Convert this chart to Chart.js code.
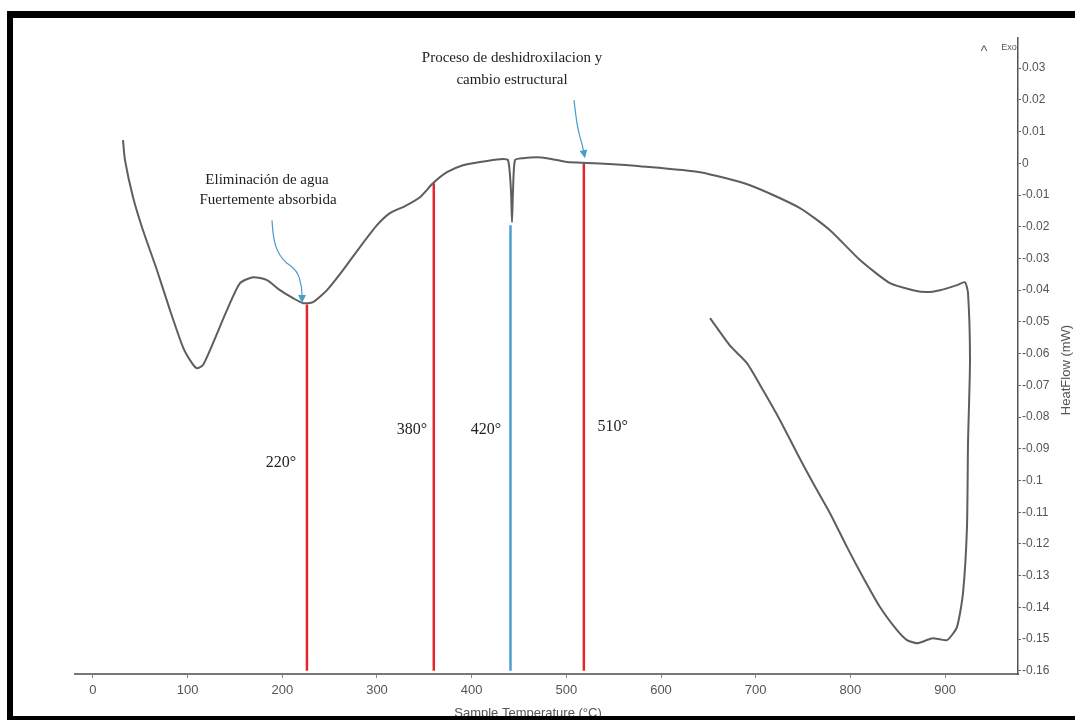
<!DOCTYPE html>
<html>
<head>
<meta charset="utf-8">
<script src="https://cdn.jsdelivr.net/npm/chart.js@4.4.1/dist/chart.umd.min.js"></script>
<style>
  html, body { margin: 0; padding: 0; background: #fff; }
  #wrap { width: 1075px; height: 720px; position: relative; }
</style>
</head>
<body>
<div id="wrap"><canvas id="chart"></canvas></div>
<script>
// DSC trace: sample temperature (°C) and heat flow (mW), in drawing order
const curveTemp = [31.7, 33.8, 42.3, 52.8, 67.6, 81.3, 95.1, 104.6, 109.9, 116.2, 126.8, 141.5, 155.3, 169.0,
  183.8, 197.5, 211.3, 221.8, 232.4, 247.2, 264.1, 282.0, 300.0, 313.7, 329.6, 345.4, 359.1, 373.9, 390.8, 408.8,
  429.9, 438.4, 441.5, 442.6, 443.7, 445.8, 454.2, 469.0, 479.6, 500.7, 521.8, 549.3, 577.8, 641.2, 694.0,
  746.8, 778.5, 810.2, 841.9, 866.2, 881.0, 894.7, 912.6, 921.1, 924.3, 926.4, 924.3, 923.2, 919.0, 912.6,
  902.1, 887.3, 881.0, 870.4, 859.8, 849.3, 831.3, 813.4, 796.5, 778.5, 760.6, 743.7, 725.7, 707.7, 690.8,
  672.9, 651.8];
const curveHeat = [0.0073, 0.0010, -0.0107, -0.0211, -0.0337, -0.0463, -0.0580, -0.0630, -0.0646, -0.0636,
  -0.0567, -0.0463, -0.0378, -0.0359, -0.0368, -0.0400, -0.0425, -0.0441, -0.0438, -0.0400, -0.0337, -0.0264,
  -0.0195, -0.0157, -0.0135, -0.0107, -0.0063, -0.0028, -0.0006, 0.0004, 0.0013, 0.0010, -0.0085, -0.0186, -0.0085,
  0.0010, 0.0016, 0.0019, 0.0016, 0.0004, 0.0001, -0.0003, -0.0009, -0.0028, -0.0069, -0.0141, -0.0211,
  -0.0305, -0.0378, -0.0400, -0.0406, -0.0400, -0.0384, -0.0375, -0.0409, -0.0621, -0.0882, -0.1147, -0.1355,
  -0.1462, -0.1503, -0.1497, -0.1503, -0.1513, -0.1503, -0.1472, -0.1399, -0.1305, -0.1210, -0.1103, -0.1008,
  -0.0914, -0.0810, -0.0715, -0.0630, -0.0575, -0.0488];

// vertical marker lines (position on temperature axis, top end on heat flow axis)
const markerTemp = [226, 360, 441, 518.5];
const markerTop = [-0.0445, -0.0063, -0.0195, -0.0001];
const markerColor = ['#e3262c', '#e3262c', '#4a9fd0', '#e3262c'];
const markerText = ['220°', '380°', '420°', '510°'];
const markerTextTemp = [198.6, 337, 415, 549];
const markerTextHeat = [-0.0945, -0.0841, -0.0841, -0.0832];

// axis ticks
const xTicks = [0, 100, 200, 300, 400, 500, 600, 700, 800, 900];
const yTicks = [0.03, 0.02, 0.01, 0, -0.01, -0.02, -0.03, -0.04, -0.05, -0.06, -0.07, -0.08,
  -0.09, -0.1, -0.11, -0.12, -0.13, -0.14, -0.15, -0.16];

// callouts with arrows
const waterText = ['Eliminación de agua', 'Fuertemente absorbida'];
const waterTextAt = [[183.8, -0.0053], [184.9, -0.0116]];
const waterArrow = [[189.1, -0.0180], [190.1, -0.0245], [199.6, -0.0305], [215.5, -0.0337], [220.8, -0.0390], [220.8, -0.0441]];
const dehydText = ['Proceso de deshidroxilacion y', 'cambio estructural'];
const dehydTextAt = [[442.6, 0.0332], [442.6, 0.0262]];
const dehydArrow = [[508.1, 0.0199], [511.3, 0.0114], [516.5, 0.0064], [519.7, 0.0016]];

const X_MIN = -19, X_MAX = 977.1, Y_MIN = -0.161, Y_MAX = 0.0395;
const tickFont = "'Liberation Sans', Arial, sans-serif";
const serif = "'Liberation Serif', 'DejaVu Serif', serif";

const datasets = [{
  data: curveTemp.map((t, i) => ({ x: t, y: curveHeat[i] })),
  showLine: true,
  borderColor: '#5e5e5e',
  borderWidth: 2,
  pointRadius: 0,
  tension: 0.2
}];
markerTemp.forEach((t, i) => {
  datasets.push({
    data: [{ x: t, y: Y_MIN + 0.001 }, { x: t, y: markerTop[i] }],
    showLine: true,
    borderColor: markerColor[i],
    borderWidth: 2.5,
    pointRadius: 0
  });
});

function drawArrow(ctx, pts, color) {
  ctx.save();
  ctx.strokeStyle = color;
  ctx.fillStyle = color;
  ctx.lineWidth = 1.2;
  ctx.beginPath();
  ctx.moveTo(pts[0][0], pts[0][1]);
  for (let i = 1; i < pts.length - 1; i++) {
    const mx = (pts[i][0] + pts[i + 1][0]) / 2, my = (pts[i][1] + pts[i + 1][1]) / 2;
    ctx.quadraticCurveTo(pts[i][0], pts[i][1], mx, my);
  }
  const tip = pts[pts.length - 1], prev = pts[pts.length - 2];
  ctx.lineTo(tip[0], tip[1] - 6);
  ctx.stroke();
  const a = Math.atan2(tip[1] - prev[1], tip[0] - prev[0]);
  ctx.beginPath();
  ctx.moveTo(tip[0], tip[1]);
  ctx.lineTo(tip[0] - 9 * Math.cos(a - 0.45), tip[1] - 9 * Math.sin(a - 0.45));
  ctx.lineTo(tip[0] - 9 * Math.cos(a + 0.45), tip[1] - 9 * Math.sin(a + 0.45));
  ctx.closePath();
  ctx.fill();
  ctx.restore();
}

const overlay = {
  id: 'overlay',
  afterDatasetsDraw(chart) {
    const { ctx, scales: { x, y }, chartArea } = chart;
    const px = p => [x.getPixelForValue(p[0]), y.getPixelForValue(p[1])];
    ctx.save();
    ctx.fillStyle = '#222';
    ctx.textAlign = 'center';
    ctx.textBaseline = 'middle';
    ctx.font = '15px ' + serif;
    waterText.forEach((s, i) => { const p = px(waterTextAt[i]); ctx.fillText(s, p[0], p[1]); });
    dehydText.forEach((s, i) => { const p = px(dehydTextAt[i]); ctx.fillText(s, p[0], p[1]); });
    ctx.font = '16px ' + serif;
    markerText.forEach((s, i) => {
      ctx.fillText(s, x.getPixelForValue(markerTextTemp[i]), y.getPixelForValue(markerTextHeat[i]));
    });
    drawArrow(ctx, waterArrow.map(px), '#4a9cc9');
    drawArrow(ctx, dehydArrow.map(px), '#4a9cc9');

    // axis titles and the Exo mark
    ctx.fillStyle = '#555';
    ctx.font = '13px ' + tickFont;
    ctx.fillText('Sample Temperature (°C)', 528, 713);
    ctx.save();
    ctx.translate(1066, 370);
    ctx.rotate(-Math.PI / 2);
    ctx.fillText('HeatFlow (mW)', 0, 0);
    ctx.restore();
    ctx.font = '14px ' + tickFont;
    ctx.fillText('^', chartArea.right - 34, 52);
    ctx.font = '9px ' + tickFont;
    ctx.fillText('Exo', chartArea.right - 9, 48);
    ctx.restore();
  },
  afterDraw(chart) {
    const ctx = chart.ctx;
    ctx.save();
    ctx.fillStyle = '#000';
    ctx.fillRect(7, 11, 1068, 7);
    ctx.fillRect(7, 11, 6, 709);
    ctx.fillRect(7, 716, 1068, 4);
    ctx.restore();
  }
};

new Chart(document.getElementById('chart'), {
  type: 'scatter',
  data: { datasets },
  options: {
    responsive: true,
    maintainAspectRatio: false,
    animation: false,
    layout: { padding: { left: 75, top: 38, right: 0, bottom: 0 } },
    plugins: { legend: { display: false }, tooltip: { enabled: false } },
    scales: {
      x: {
        type: 'linear',
        min: X_MIN,
        max: X_MAX,
        afterBuildTicks: s => { s.ticks = xTicks.map(v => ({ value: v })); },
        afterFit: s => { s.height = 46; },
        border: { color: '#777', width: 2 },
        grid: { drawOnChartArea: false, drawTicks: true, tickLength: 4, color: '#888' },
        ticks: { color: '#555', padding: 5, maxRotation: 0, font: { family: tickFont, size: 13 } }
      },
      y: {
        type: 'linear',
        position: 'right',
        min: Y_MIN,
        max: Y_MAX,
        afterBuildTicks: s => { s.ticks = yTicks.map(v => ({ value: v })); },
        afterFit: s => { s.width = 57; },
        border: { color: '#555', width: 1.5 },
        grid: { drawOnChartArea: false, drawTicks: true, tickLength: 3, color: '#666' },
        ticks: {
          color: '#555',
          padding: 1,
          font: { family: tickFont, size: 12 },
          callback: v => String(Number(v.toFixed(2)))
        }
      }
    }
  },
  plugins: [overlay]
});
</script>
</body>
</html>
